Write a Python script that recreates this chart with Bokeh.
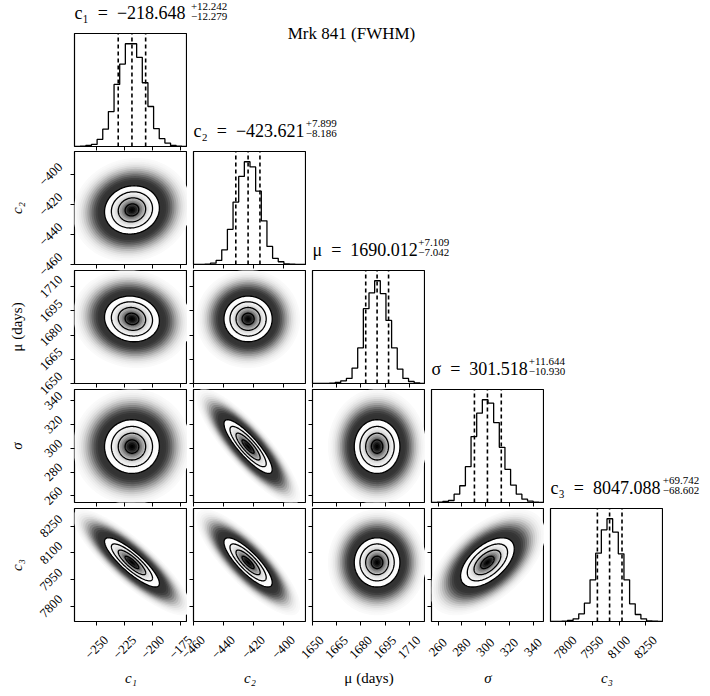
import numpy as np
from bokeh.plotting import figure
from bokeh.layouts import column, row
from bokeh.models import FixedTicker, Label, Range1d, Spacer
from bokeh.core.properties import value
from bokeh.embed import file_html
from bokeh.resources import INLINE

# ---------------- data ----------------
plot_title = "Mrk 841 (FWHM)"
axis_labels = ["c₁", "c₂", "μ (days)", "σ", "c₃"]
title_symbols = ["c₁", "c₂", "μ", "σ", "c₃"]
medians = [-218.648, -423.621, 1690.012, 301.518, 8047.088]
err_plus = [12.242, 7.899, 7.109, 11.644, 69.742]
err_minus = [12.279, 8.186, 7.042, 10.930, 68.602]
range_lo = [-270.0, -460.0, 1650.0, 254.5, 7715.0]
range_hi = [-169.0, -384.7, 1720.0, 349.5, 8350.0]

ticks_c1 = [-250, -225, -200, -175]
ticks_c2 = [-460, -440, -420, -400]
ticks_mu = [1650, 1665, 1680, 1695, 1710]
ticks_sigma = [260, 280, 300, 320, 340]
ticks_c3 = [7800, 7950, 8100, 8250]

hist_c1 = [0, 1, 3, 6, 21, 51, 103, 183, 243, 303, 303, 263, 188, 118, 53, 23, 10, 3, 1, 0]
hist_c2 = [0, 0, 1, 4, 12, 43, 103, 183, 258, 301, 286, 215, 128, 53, 18, 8, 2, 1, 0, 0]
hist_mu = [0, 0, 0, 1, 3, 8, 15, 46, 106, 223, 270, 306, 268, 188, 106, 43, 15, 6, 2, 0]
hist_sigma = [0, 1, 3, 6, 25, 50, 107, 197, 267, 307, 297, 239, 165, 99, 52, 25, 10, 4, 1, 0]
hist_c3 = [0, 0, 1, 3, 8, 23, 55, 125, 205, 275, 308, 268, 203, 125, 53, 21, 8, 2, 1, 0]

# correlation coefficients of the 2-D panels (estimated from the ellipse shapes)
corr_c1_c2 = 0.08
corr_c1_mu = -0.08
corr_c2_mu = 0.0
corr_c1_sigma = 0.0
corr_c2_sigma = -0.85
corr_mu_sigma = 0.0
corr_c1_c3 = -0.85
corr_c2_c3 = -0.82
corr_mu_c3 = 0.0
corr_sigma_c3 = 0.55

ticks = [ticks_c1, ticks_c2, ticks_mu, ticks_sigma, ticks_c3]
hists = [hist_c1, hist_c2, hist_mu, hist_sigma, hist_c3]
corr = {
    (1, 0): corr_c1_c2, (2, 0): corr_c1_mu, (2, 1): corr_c2_mu,
    (3, 0): corr_c1_sigma, (3, 1): corr_c2_sigma, (3, 2): corr_mu_sigma,
    (4, 0): corr_c1_c3, (4, 1): corr_c2_c3, (4, 2): corr_mu_c3, (4, 3): corr_sigma_c3,
}

# ---------------- layout ----------------
N = 5
F = 113
W_TOTAL = 702
H_TOTAL = 694
YL_W = 68            # strip with the y tick labels / y axis labels
HEAD_H = 23          # strip with the first title
frame_left = [74, 193, 312, 431, 550]
frame_top = [33, 151, 270, 389, 508]
bottom_b = [5, 6, 6, 6, 6]
PANEL_BOTTOM = frame_top[-1] + F + bottom_b[-1]
SERIF = "Liberation Serif"
TICK_FS = 13
LABEL_FS = 15
MAIN_FS = 18
SUP_FS = 11
BASE_FIX = 0.33          # empirical shift of the alphabetic baseline (in em)
main_w17 = [109, 105, 99, 91, 105]   # measured width of the main title text at 17px
title_base = [18.5, 136, 255, 374, 493]
EM = {"−": 0.564, ".": 0.25}


def fmt(t):
    return f"{t:g}".replace("-", "\u2212")


def text_em(s):
    return sum(EM.get(ch, 0.5) for ch in s)


def ellipse(mx, my, sx, sy, rho, k, n=140):
    t = np.linspace(0, 2 * np.pi, n)
    u, v = np.cos(t), np.sin(t)
    return mx + k * sx * u, my + k * sy * (rho * u + np.sqrt(1 - rho ** 2) * v)


def blank_fig(w, h, bb=0, **kw):
    p = figure(width=w, height=h, output_backend="svg", toolbar_location=None, title=None,
               min_border_left=0, min_border_right=0, min_border_top=0,
               min_border_bottom=bb, **kw)
    p.xaxis.visible = False
    p.yaxis.visible = False
    p.xgrid.visible = False
    p.ygrid.visible = False
    p.outline_line_color = None
    p.background_fill_color = "white"
    p.border_fill_color = "white"
    return p


def text_fig(left, ftop, w, h, bb):
    fh = h - bb
    p = blank_fig(w, h, bb, x_range=(0, w), y_range=(0, fh))
    p._page = (left, ftop, fh)
    return p


def put(p, px, py, text, size, align="left"):
    left, ftop, fh = p._page
    y = fh - (py - ftop) + BASE_FIX * size
    p.add_layout(Label(x=px - left, y=y, text=text, text_font=SERIF,
                       text_font_size=f"{size}px", text_align=align,
                       text_baseline="alphabetic", text_color="black"))


def hide_labels(ax):
    ax.major_label_text_font_size = "0px"
    ax.major_label_text_color = None
    ax.major_label_standoff = 0


sds = [(a + b) / 2 for a, b in zip(err_plus, err_minus)]

cloud_k = np.arange(4.3, 1.99, -0.15)
cloud_grey = []
for k in cloud_k:
    kk = k - 0.075
    d = 0.8 if kk <= 2.3 else 0.8 * np.exp(-0.5 * ((kk - 2.3) / 0.7) ** 2)
    cloud_grey.append(int(round(255 * (1 - d))))
dens_k = np.arange(2.0, 0.01, -0.125)
dens_grey = [int(round(255 * (1 - np.exp(-1.5 * (k - 0.0625) ** 2)))) for k in dens_k]

figs = {}
for r in range(N):
    for c in range(r + 1):
        lb = frame_left[c] - (YL_W if c == 0 else frame_left[c - 1] + F)
        bb = bottom_b[r]
        yr = (0, 1.1 * max(hists[r])) if r == c else (range_lo[r], range_hi[r])
        p = figure(width=lb + F, height=F + bb,
                   x_range=(range_lo[c], range_hi[c]), y_range=yr,
                   output_backend="svg", toolbar_location=None, title=None,
                   min_border_left=lb, min_border_right=0,
                   min_border_top=0, min_border_bottom=bb)
        p.xgrid.visible = False
        p.ygrid.visible = False
        p.outline_line_color = "black"
        p.outline_line_width = 1.2
        p.background_fill_color = "white"
        p.border_fill_color = "white"

        xa = p.xaxis[0]
        xa.ticker = FixedTicker(ticks=ticks[c])
        xa.axis_line_color = None
        xa.major_tick_out = 4
        xa.major_tick_in = 0
        xa.minor_tick_line_color = None
        hide_labels(xa)

        ya = p.yaxis[0]
        if r == c:
            ya.visible = False
        else:
            ya.ticker = FixedTicker(ticks=ticks[r])
            ya.axis_line_color = None
            ya.major_tick_out = 4
            ya.major_tick_in = 0
            ya.minor_tick_line_color = None
            hide_labels(ya)

        if r == c:
            h = np.array(hists[r], dtype=float)
            edges = np.linspace(range_lo[r], range_hi[r], len(h) + 1)
            xs = np.concatenate([[edges[0]], np.repeat(edges, 2)[1:-1], [edges[-1]]])
            ys = np.concatenate([[0], np.repeat(h, 2), [0]])
            p.line(xs, ys, line_color="black", line_width=1.3)
            for q in (medians[r] - err_minus[r], medians[r], medians[r] + err_plus[r]):
                p.segment(x0=q, y0=0, x1=q, y1=yr[1], line_color="black",
                          line_width=1.6, line_dash="4 3")
        else:
            mx, my, sx, sy, rho = medians[c], medians[r], sds[c], sds[r], corr[(r, c)]
            for k, g in zip(cloud_k, cloud_grey):
                ex, ey = ellipse(mx, my, sx, sy, rho, k)
                p.patch(ex, ey, fill_color=(g, g, g), line_color=None)
            for k, g in zip(dens_k, dens_grey):
                ex, ey = ellipse(mx, my, sx, sy, rho, k)
                p.patch(ex, ey, fill_color=(g, g, g), line_color=None)
            for k in [2.0, 1.5, 1.0, 0.5]:
                ex, ey = ellipse(mx, my, sx, sy, rho, k)
                p.line(ex, ey, line_color="black", line_width=1.3)
        figs[(r, c)] = p

# ---- strip on the left: y tick labels + y axis labels, on each row's own scale ----
yl = blank_fig(YL_W, PANEL_BOTTOM, x_range=(0, YL_W), y_range=(0, PANEL_BOTTOM))
for r in range(1, N):
    lo, hi = range_lo[r], range_hi[r]
    s = (hi - lo) / F
    name = f"row{r}"
    yl.extra_y_ranges[name] = Range1d(start=hi - (PANEL_BOTTOM - frame_top[r]) * s,
                                      end=hi + frame_top[r] * s)
    labs = [fmt(t) for t in ticks[r]]
    xc = [63 - 0.707 * (text_em(l) * TICK_FS + 0.66 * TICK_FS) / 2 for l in labs]
    yl.text(x=xc, y=ticks[r], text=labs, angle=np.pi / 4, y_range_name=name,
            text_font=value(SERIF), text_font_size=value(f"{TICK_FS}px"),
            text_align="center", text_baseline="middle", text_color="black")
    yl.text(x=[16], y=[(lo + hi) / 2], text=[axis_labels[r]], angle=np.pi / 2,
            y_range_name=name, text_font=value(SERIF),
            text_font_size=value(f"{LABEL_FS}px"),
            text_font_style="normal" if r == 2 else "italic",
            text_align="center", text_baseline="middle", text_color="black")

# ---- strip at the bottom: x tick labels + x axis labels, on each column's own scale ----
XL_H = H_TOTAL - PANEL_BOTTOM
xl = blank_fig(W_TOTAL, XL_H, x_range=(0, W_TOTAL), y_range=(0, XL_H))
for c in range(N):
    lo, hi = range_lo[c], range_hi[c]
    s = (hi - lo) / F
    name = f"col{c}"
    xl.extra_x_ranges[name] = Range1d(start=lo - frame_left[c] * s,
                                      end=lo + (W_TOTAL - frame_left[c]) * s)
    labs = [fmt(t) for t in ticks[c]]
    xl.text(x=ticks[c], y=[XL_H - (647 - PANEL_BOTTOM)] * len(labs), text=labs,
            angle=np.pi / 4, x_range_name=name, text_font=value(SERIF),
            text_font_size=value(f"{TICK_FS}px"),
            text_align="center", text_baseline="middle", text_color="black")
    xl.text(x=[(lo + hi) / 2], y=[XL_H - (677 - PANEL_BOTTOM)], text=[axis_labels[c]],
            x_range_name=name, text_font=value(SERIF),
            text_font_size=value(f"{LABEL_FS}px"),
            text_font_style="normal" if c == 2 else "italic",
            text_align="center", text_baseline="middle", text_color="black")

# ---- title areas ----
header = text_fig(YL_W, 0, W_TOTAL - YL_W, HEAD_H, 0)
tareas = []
for r in range(N - 1):
    left = frame_left[r] + F
    top = HEAD_H if r == 0 else frame_top[r]
    tareas.append(text_fig(left, top, W_TOTAL - left, frame_top[r + 1] - top, bottom_b[r]))

for i in range(N):
    host = header if i == 0 else tareas[i - 1]
    base = title_base[i]
    sign = "\u2212" if medians[i] < 0 else ""
    main = f"{title_symbols[i]}\u2002=\u2002{sign}{abs(medians[i]):.3f}"
    sx = frame_left[i] + main_w17[i] * MAIN_FS / 17 + 1
    put(host, frame_left[i], base, main, MAIN_FS)
    put(host, sx, base - 9, f"+{err_plus[i]:.3f}", SUP_FS)
    put(host, sx, base + 1, f"\u2212{err_minus[i]:.3f}", SUP_FS)

put(tareas[0], 351, 38.5, plot_title, 17, align="center")

c0w = frame_left[0] + F - YL_W
rows = [header,
        row(column(Spacer(width=c0w, height=frame_top[0] - HEAD_H), figs[(0, 0)]), tareas[0])]
for r in range(1, N):
    items = [figs[(r, c)] for c in range(r + 1)]
    if r < N - 1:
        items.append(tareas[r])
    rows.append(row(*items))
layout = column(row(yl, column(*rows)), xl)

open("out.html", "w").write(file_html(layout, INLINE))
